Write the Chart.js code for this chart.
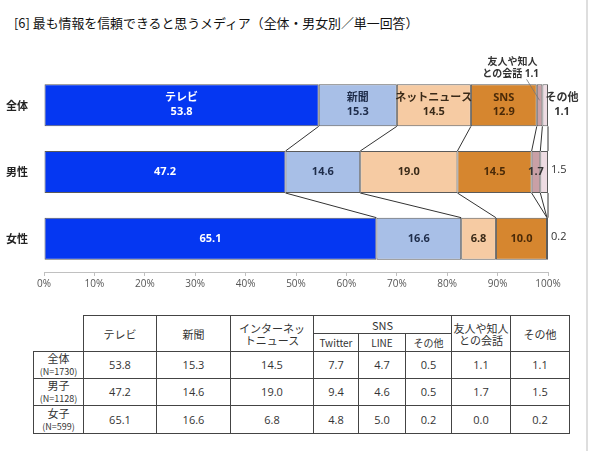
<!DOCTYPE html>
<html><head><meta charset="utf-8">
<script src="https://cdn.jsdelivr.net/npm/chart.js@4.4.1/dist/chart.umd.min.js"></script>
<style>
html,body{margin:0;padding:0;background:#fff;width:590px;height:451px;overflow:hidden;font-family:"Noto Sans CJK JP","Noto Sans",sans-serif;}
#title{position:absolute;left:14px;top:13px;font-size:12.9px;color:#111;white-space:nowrap;letter-spacing:0px;}
#c{position:absolute;left:0;top:0;}
#edge{position:absolute;left:586px;top:0;width:2px;height:451px;background:#dedede;}
#tbl{position:absolute;left:33px;top:315px;border-collapse:collapse;table-layout:fixed;font-size:11px;color:#333;font-family:"Noto Sans CJK JP",sans-serif;}
#tbl td{border:1px solid #444;padding:0;text-align:center;line-height:12px;}
#tbl td.blank{border-top:none;border-left:none;}
#tbl td.num{font-family:"Open Sans","Noto Sans",sans-serif;font-size:11px;}
#tbl td.sub{font-size:10px;}
#tbl small{font-size:9px;}
</style>
</head><body>
<div id="title">[6] 最も情報を信頼できると思うメディア（全体・男女別／単一回答）</div>
<canvas id="c" width="590" height="300"></canvas>
<table id="tbl"></table>
<div id="edge"></div>
<script>
// ---- data ----
const groups = ['全体', '男性', '女性'];
const seriesNames = ['テレビ', '新聞', 'ネットニュース', 'SNS', '友人や知人との会話', 'その他'];
const tv = [53.8, 47.2, 65.1];
const paper = [15.3, 14.6, 16.6];
const netNews = [14.5, 19.0, 6.8];
const sns = [12.9, 14.5, 10.0];
const friends = [1.1, 1.7, 0.0];
const other = [1.1, 1.5, 0.2];
const xTicks = [0, 10, 20, 30, 40, 50, 60, 70, 80, 90, 100];

// table data
const tableRowLabels = ['全体', '男子', '女子'];
const tableN = ['(N=1730)', '(N=1128)', '(N=599)'];
const twitter = [7.7, 9.4, 4.8];
const lineApp = [4.7, 4.6, 5.0];
const snsOther = [0.5, 0.5, 0.2];

// ---- styles ----
const colors = ['#0537F2', '#A8BFE7', '#F6CBA3', '#D6862F', '#C9A0A6', '#EEDCE3'];
const labelColors = ['#ffffff', '#1e2c4a', '#3a2a18', '#4a2a08', '#333', '#333'];

const raw = [tv, paper, netNews, sns, friends, other];
const totals = groups.map((g, i) => raw.reduce((s, a) => s + a[i], 0));

const datasets = raw.map((arr, k) => ({
  label: seriesNames[k],
  data: arr.map((v, i) => v / totals[i] * 100),
  rawValues: arr,
  backgroundColor: colors[k],
  borderColor: '#5a5a5a',
  borderWidth: 1,
  borderSkipped: false,
  barPercentage: 0.63,
  categoryPercentage: 1
}));

const fmt = v => v.toFixed(1);

const connectorPlugin = {
  id: 'connectors',
  afterDatasetsDraw(chart) {
    const ctx = chart.ctx;
    const xs = chart.scales.x;
    ctx.save();
    ctx.strokeStyle = '#333';
    ctx.lineWidth = 1;
    for (let i = 0; i < groups.length - 1; i++) {
      let cumA = 0, cumB = 0;
      for (let k = 0; k < datasets.length; k++) {
        cumA += datasets[k].data[i];
        cumB += datasets[k].data[i + 1];
        const elA = chart.getDatasetMeta(k).data[i];
        const elB = chart.getDatasetMeta(k).data[i + 1];
        const x1 = xs.getPixelForValue(cumA), y1 = elA.y + elA.height / 2;
        const x2 = xs.getPixelForValue(cumB), y2 = elB.y - elB.height / 2;
        ctx.beginPath();
        ctx.moveTo(x1, y1);
        ctx.lineTo(x2, y2);
        ctx.stroke();
      }
    }
    ctx.restore();
  }
};

const labelPlugin = {
  id: 'segLabels',
  afterDatasetsDraw(chart) {
    const ctx = chart.ctx;
    ctx.save();
    ctx.font = 'bold 11px "Open Sans","Noto Sans CJK JP",sans-serif';
    ctx.textBaseline = 'middle';
    datasets.forEach((ds, k) => {
      const meta = chart.getDatasetMeta(k);
      meta.data.forEach((el, i) => {
        const v = ds.rawValues[i];
        if (v === 0) return;
        const cx = (el.x + el.base) / 2;
        const cy = el.y;
        const top = el.y - el.height / 2;
        ctx.fillStyle = labelColors[k];
        ctx.textAlign = 'center';
        if (k <= 3) {
          if (i === 0) {
            ctx.fillText(ds.label, cx, cy - 7);
            ctx.fillText(fmt(v), cx, cy + 7);
          } else {
            ctx.fillText(fmt(v), cx, cy);
          }
        } else if (k === 4) {
          if (i === 0) {
            ctx.font = 'bold 10px "Open Sans","Noto Sans CJK JP",sans-serif';
            ctx.fillText('友人や知人', cx - 27, top - 22);
            ctx.fillText('との会話 ' + fmt(v), cx - 29, top - 10);
            ctx.font = 'bold 11px "Open Sans","Noto Sans CJK JP",sans-serif';
            ctx.strokeStyle = '#777';
            ctx.lineWidth = 0.8;
            ctx.beginPath();
            ctx.moveTo(cx - 13, top - 5);
            ctx.lineTo(cx, cy - 5);
            ctx.stroke();
          } else {
            ctx.fillText(fmt(v), cx, cy);
          }
        } else {
          const end = el.x;
          if (i === 0) {
            ctx.fillText(ds.label, end + 14, cy - 7);
            ctx.fillText(fmt(v), end + 14, cy + 7);
          } else {
            ctx.textAlign = 'left';
            ctx.font = '11px "Open Sans","Noto Sans CJK JP",sans-serif';
            ctx.fillText(fmt(v), end + 3, cy - 2);
            ctx.font = 'bold 11px "Open Sans","Noto Sans CJK JP",sans-serif';
          }
        }
      });
    });
    ctx.restore();
  }
};

new Chart(document.getElementById('c'), {
  type: 'bar',
  data: { labels: groups, datasets },
  options: {
    indexAxis: 'y',
    responsive: false,
    animation: false,
    devicePixelRatio: 1,
    layout: { padding: { top: 72, right: 42, left: 0, bottom: 0 } },
    plugins: { legend: { display: false }, tooltip: { enabled: false } },
    scales: {
      x: {
        stacked: true, min: 0, max: 100,
        afterBuildTicks: s => { s.ticks = xTicks.map(v => ({ value: v })); },
        afterFit: s => { s.height = 28; },
        ticks: { autoSkip: false, maxRotation: 0, padding: 2, color: '#555', font: { size: 10, family: '"Open Sans",sans-serif' }, callback: v => v + '%' },
        grid: { display: true, drawOnChartArea: false, drawTicks: true, tickLength: 4, color: '#c0c0c0' },
        border: { display: true, color: '#c0c0c0' }
      },
      y: {
        stacked: true,
        afterFit: s => { s.width = 44; },
        ticks: { color: '#222', padding: 8, font: { size: 11, weight: 'bold', family: '"Noto Sans CJK JP",sans-serif' } },
        grid: { display: false },
        border: { display: false }
      }
    }
  },
  plugins: [connectorPlugin, labelPlugin]
});

// ---- table ----
const colWidths = [50, 73, 74, 83, 45, 47, 46, 59, 59];
const tbl = document.getElementById('tbl');
let html = '<colgroup>' + colWidths.map(w => '<col style="width:' + w + 'px">').join('') + '</colgroup>';
html += '<tr style="height:18px"><td class="blank" rowspan="2" style="border-top:none;border-left:none;"></td>' +
  '<td rowspan="2">テレビ</td><td rowspan="2">新聞</td><td rowspan="2">インターネッ<br>トニュース</td>' +
  '<td colspan="3">SNS</td><td rowspan="2">友人や知人<br>との会話</td><td rowspan="2">その他</td></tr>';
html += '<tr style="height:18px"><td class="sub">Twitter</td><td class="sub">LINE</td><td class="sub">その他</td></tr>';
tableRowLabels.forEach((lab, i) => {
  const vals = [tv[i], paper[i], netNews[i], twitter[i], lineApp[i], snsOther[i], friends[i], other[i]];
  html += '<tr style="height:' + (i === 2 ? 28 : 26) + 'px"><td>' + lab + '<br><small>' + tableN[i] + '</small></td>' +
    vals.map(v => '<td class="num">' + fmt(v) + '</td>').join('') + '</tr>';
});
tbl.innerHTML = html;
</script>
</body></html>
